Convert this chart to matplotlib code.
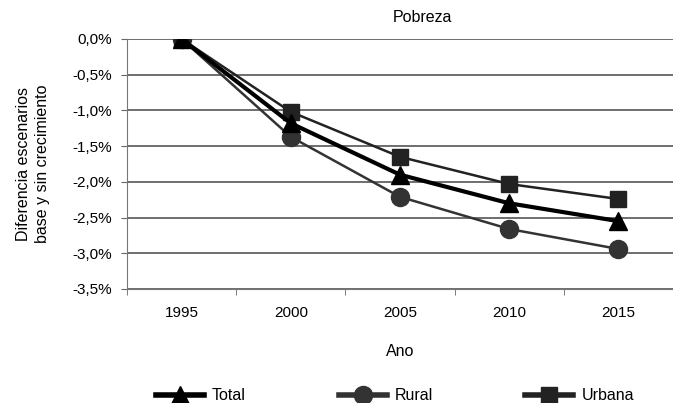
import numpy as np
import matplotlib
matplotlib.use("Agg")
import matplotlib.pyplot as plt
from matplotlib.ticker import FuncFormatter

plt.rcParams['font.family'] = ['Liberation Sans', 'DejaVu Sans']

years = ["1995", "2000", "2005", "2010", "2015"]
total = [0.0, -1.18, -1.90, -2.30, -2.55]
rural = [0.0, -1.37, -2.21, -2.66, -2.94]
urbana = [0.0, -1.02, -1.65, -2.03, -2.24]

fig = plt.figure(figsize=(6.73, 4.03), dpi=100)
ax = fig.add_axes([127/673, 114/403, 546/673, 250/403])

x = np.arange(len(years))
ax.plot(x, total, color='black', lw=3, marker='^', ms=13, label='Total', zorder=4)
ax.plot(x, rural, color='#333333', lw=1.8, marker='o', ms=13, label='Rural', zorder=3)
ax.plot(x, urbana, color='#222222', lw=1.8, marker='s', ms=12, label='Urbana', zorder=3)

ax.set_xlim(-0.5, -0.5 + 546/110)
ax.set_ylim(-3.5, 0.0)
ax.set_yticks(np.arange(-3.5, 0.01, 0.5))
ax.yaxis.set_major_formatter(FuncFormatter(lambda v, p: ("%.1f%%" % v).replace('.', ',').replace('-0,0', '0,0')))
ax.set_xticks(x)
ax.set_xticklabels(years)
ax.set_xticks(np.arange(-0.5, 4.6, 1), minor=True)
ax.tick_params(axis='x', which='major', length=0, pad=12, labelsize=11)
ax.tick_params(axis='x', which='minor', length=4, color='#666666')
ax.tick_params(axis='y', length=4, color='#666666', labelsize=11, pad=7)

ax.grid(axis='y', color='#555555', lw=1.2)
ax.set_axisbelow(True)
for s in ['top', 'right']:
    ax.spines[s].set_visible(False)
for s in ['left', 'bottom']:
    ax.spines[s].set_color('#777777')

ax.set_ylabel("Diferencia escenarios\nbase y sin crecimiento", fontsize=11.5, labelpad=16, linespacing=1.3)
fig.text(422/673, 1 - 18/403, "Pobreza", ha='center', va='center', fontsize=11.5)
fig.text(400/673, 1 - 352/403, "Ano", ha='center', va='center', fontsize=11.5)

leg = fig.legend(loc='center', bbox_to_anchor=(395/673, 1 - 396/403), ncol=3, frameon=False,
                 handlelength=3.0, columnspacing=5.8, handletextpad=0.5, fontsize=11.5)
for h in leg.legend_handles:
    h.set_linewidth(4)

fig.savefig("out.png", dpi=100)
